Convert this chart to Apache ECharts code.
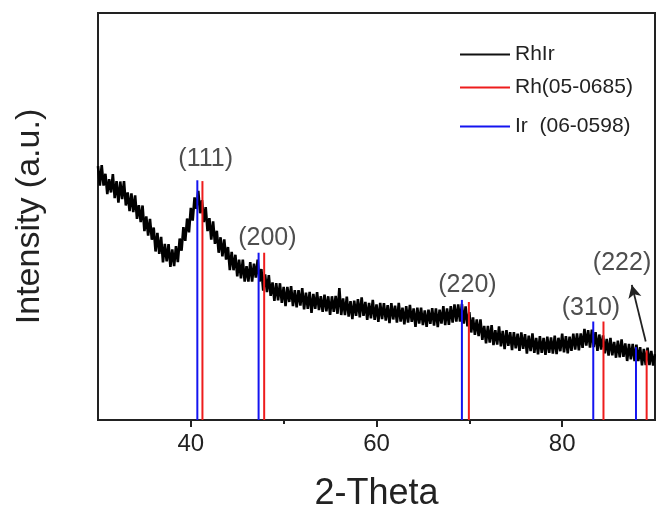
<!DOCTYPE html>
<html><head><meta charset="utf-8">
<script src="https://cdn.jsdelivr.net/npm/echarts@6/dist/echarts.min.js"></script>
<style>html,body{margin:0;padding:0;background:#fff}#c{width:656px;height:517px}</style>
</head><body><div id="c"></div>
<script>
// 2-Theta sampling of the measured pattern
const thetaStart = 30, thetaStep = 0.2;
const rhirIntensity = [
62.4,57.6,62.6,57.6,60.5,55.5,59.2,55.9,60.4,54.5,
58.7,53.4,58.6,54.3,58.7,52.7,55.9,
51.3,55.7,51.1,55.2,49.4,52.8,
48.6,52.7,46.4,50.0,45.3,
49.4,44.3,47.3,41.4,46.0,
40.8,45.0,38.7,43.3,39.0,43.2,
37.6,41.9,37.8,42.7,
38.8,44.6,41.6,
47.4,44.0,49.5,46.1,52.1,
49.0,54.7,51.9,
56.3,50.8,54.0,
48.6,52.3,46.4,
49.6,44.3,48.8,43.3,46.5,
41.1,44.9,40.2,44.4,39.4,42.5,
36.8,41.3,36.8,40.6,35.3,
39.4,34.8,39.4,34.0,37.8,
34.0,38.8,34.0,38.4,35.0,39.4,
34.0,37.1,31.8,
35.8,31.4,35.6,30.5,33.8,29.3,33.6,
29.4,33.6,28.8,32.7,28.0,32.7,29.0,32.9,28.0,31.9,
27.7,31.9,28.1,32.4,27.2,31.3,27.3,31.5,26.3,31.0,27.3,31.4,27.0,30.4,
26.6,30.8,26.7,30.4,25.8,30.4,26.6,30.5,26.1,32.4,25.8,
29.9,25.8,30.3,25.4,29.2,24.8,29.3,25.6,29.7,25.2,30.1,25.6,29.0,24.6,28.8,25.0,29.5,24.6,28.4,24.1,28.8,24.8,
28.7,24.4,28.2,23.8,28.7,24.7,28.1,23.9,28.8,24.2,27.6,23.5,28.0,23.9,28.3,24.1,27.4,22.9,27.6,23.7,27.6,23.3,26.9,22.9,27.1,23.6,27.5,
23.2,27.4,22.8,27.1,23.7,28.0,23.3,27.4,23.4,28.0,23.9,28.4,24.2,
28.4,24.2,28.5,
23.7,27.9,23.0,26.5,21.5,25.2,
20.9,24.7,20.6,24.7,19.7,23.1,18.8,
23.1,19.0,23.3,18.4,22.1,18.5,23.0,18.1,21.9,17.4,22.1,18.2,21.6,17.2,21.6,17.6,
21.2,17.0,21.5,17.5,21.1,16.3,20.7,16.9,21.3,16.5,20.2,16.1,20.6,16.5,20.2,16.0,20.5,16.5,
20.3,16.3,20.7,16.2,20.2,16.9,21.2,16.6,20.6,16.4,20.5,17.0,21.2,17.3,
21.3,17.1,21.3,17.7,22.4,18.3,22.1,17.8,22.2,
17.9,21.6,17.0,21.0,17.3,20.8,16.4,
19.9,15.8,20.2,15.9,19.2,15.3,19.5,15.4,19.8,15.5,18.8,14.5,18.7,14.9,
18.7,14.5,18.5,14.5,17.9,13.4,17.5,13.5,17.8,13.5,17.0,13.4,16.2
];
// Reference reflections
const irTheta  = [40.7, 47.3, 69.2, 83.35, 87.95];
const irHeight = [58.9, 41.1, 29.5, 24.2, 17.9];
const rhTheta  = [41.25, 47.9, 69.95, 84.45, 89.1];
const rhHeight = [58.7, 41.1, 29.0, 24.2, 17.1];
// Peak annotations
const peakLabels = ['(111)', '(200)', '(220)', '(310)', '(222)'];
const peakLabelTheta = [41.6, 48.25, 69.8, 83.1, 86.45];
const peakLabelLevel = [64.0, 44.7, 33.1, 27.5, 38.6];
const arrowFrom = [89.0, 19.3];
const arrowTo = [87.5, 33.2];
// Axis ticks
const xTickLabels = [40, 60, 80];
const xMinorTicks = [50, 70];

const seriesNames = ['RhIr', 'Rh(05-0685)', 'Ir  (06-0598)'];
const FONT = '"Liberation Sans", Arial, sans-serif';
const AX = '#222';

const chart = echarts.init(document.getElementById('c'), null, {renderer: 'canvas'});
const legendTops = [39, 72, 111];
const option = {
  animation: false,
  backgroundColor: '#fff',
  grid: {left: 98, right: 1, top: 13, bottom: 90, show: true, borderColor: AX, borderWidth: 2, containLabel: false},
  legend: seriesNames.map((n, i) => ({
    data: [n], orient: 'vertical', left: 455, top: legendTops[i], icon: 'rect',
    itemWidth: 50, itemHeight: 2, itemGap: 5,
    textStyle: {fontFamily: FONT, fontSize: 21, color: '#222'}
  })),
  xAxis: [{
    type: 'value', min: 30, max: 90, interval: 10,
    axisLine: {show: true, onZero: false, lineStyle: {color: AX, width: 2}},
    axisTick: {show: true, customValues: xTickLabels, length: 7, lineStyle: {color: AX, width: 2}},
    axisLabel: {customValues: xTickLabels, fontFamily: FONT, fontSize: 24, color: '#222', margin: 12},
    splitLine: {show: false},
    name: '2-Theta', nameLocation: 'middle', nameGap: 56,
    nameTextStyle: {fontFamily: FONT, fontSize: 36, color: '#222'}
  }, {
    type: 'value', min: 30, max: 90, interval: 10, position: 'bottom',
    axisLine: {show: false},
    axisTick: {show: true, customValues: xMinorTicks, length: 4, lineStyle: {color: AX, width: 2}},
    axisLabel: {show: false}, splitLine: {show: false}
  }],
  yAxis: {
    type: 'value', min: 0, max: 100,
    axisLine: {show: true, lineStyle: {color: AX, width: 2}},
    axisTick: {show: false}, axisLabel: {show: false}, splitLine: {show: false},
    name: 'Intensity (a.u.)', nameLocation: 'middle', nameGap: 51, nameRotate: 90,
    nameTextStyle: {fontFamily: FONT, fontSize: 34, color: '#222'}
  },
  series: [
    {
      name: seriesNames[0], type: 'line', symbol: 'none', color: '#111',
      lineStyle: {color: '#000', width: 2.6}, z: 2,
      data: rhirIntensity.map((v, i) => [+(thetaStart + i * thetaStep).toFixed(1), v])
    },
    {
      name: seriesNames[1], type: 'bar', barWidth: 2, barGap: '-100%', color: '#ee1c1c', z: 4,
      data: rhTheta.map((t, i) => [t, rhHeight[i]])
    },
    {
      name: seriesNames[2], type: 'bar', barWidth: 2, barGap: '-100%', color: '#1414f0', z: 5,
      data: irTheta.map((t, i) => [t, irHeight[i]])
    },
    {
      name: 'labels', type: 'scatter', symbolSize: 0, z: 6, silent: true,
      data: peakLabels.map((s, i) => ({value: [peakLabelTheta[i], peakLabelLevel[i]], name: s})),
      label: {show: true, position: 'inside', formatter: p => p.name, fontFamily: FONT, fontSize: 25, color: '#222'},
      markLine: {
        silent: true, symbol: ['none', 'arrow'], symbolSize: [10, 13],
        lineStyle: {color: '#222', width: 1.8, type: 'solid'}, label: {show: false},
        data: [[{coord: arrowFrom}, {coord: arrowTo}]]
      }
    }
  ]
};
chart.setOption(option);
</script>
</body></html>
